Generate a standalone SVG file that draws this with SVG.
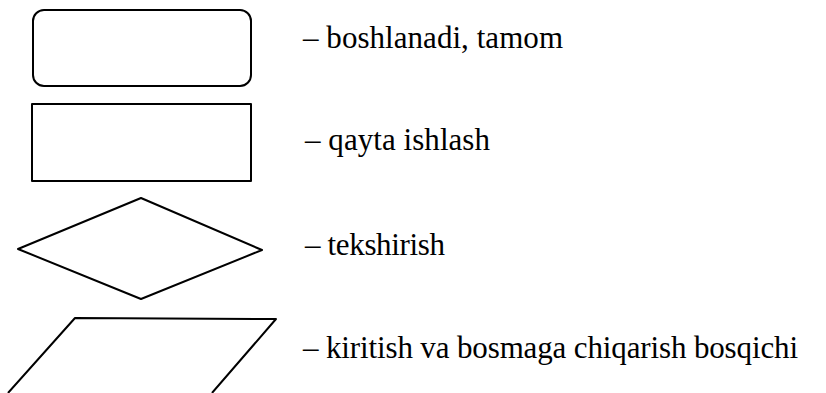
<svg xmlns="http://www.w3.org/2000/svg" width="826" height="393" viewBox="0 0 826 393">
<style>
.s{fill:none;stroke:#000;stroke-width:2;stroke-linejoin:round}
</style>
<rect width="826" height="393" fill="#fff"/>
<g id="terminal">
<rect class="s" x="33" y="10" width="218" height="76" rx="11" ry="11"/>
<text x="303" y="47.5" font-family="Liberation Serif" font-size="31" fill="#000" textLength="260" lengthAdjust="spacing">– boshlanadi, tamom</text>
</g>
<g id="process">
<rect class="s" x="32" y="104" width="219" height="77"/>
<text x="305" y="150" font-family="Liberation Serif" font-size="31" fill="#000" textLength="185" lengthAdjust="spacing">– qayta ishlash</text>
</g>
<g id="decision">
<polygon class="s" points="18,249 141,198 262,250 141,299"/>
<text x="305" y="255" font-family="Liberation Serif" font-size="31" fill="#000" textLength="140" lengthAdjust="spacing">– tekshirish</text>
</g>
<g id="io">
<polyline class="s" points="8,393 75,318 276,319 212,393"/>
<text x="303" y="358" font-family="Liberation Serif" font-size="31" fill="#000" textLength="495" lengthAdjust="spacing">– kiritish va bosmaga chiqarish bosqichi</text>
</g>
<g id="connectors"></g>
</svg>
